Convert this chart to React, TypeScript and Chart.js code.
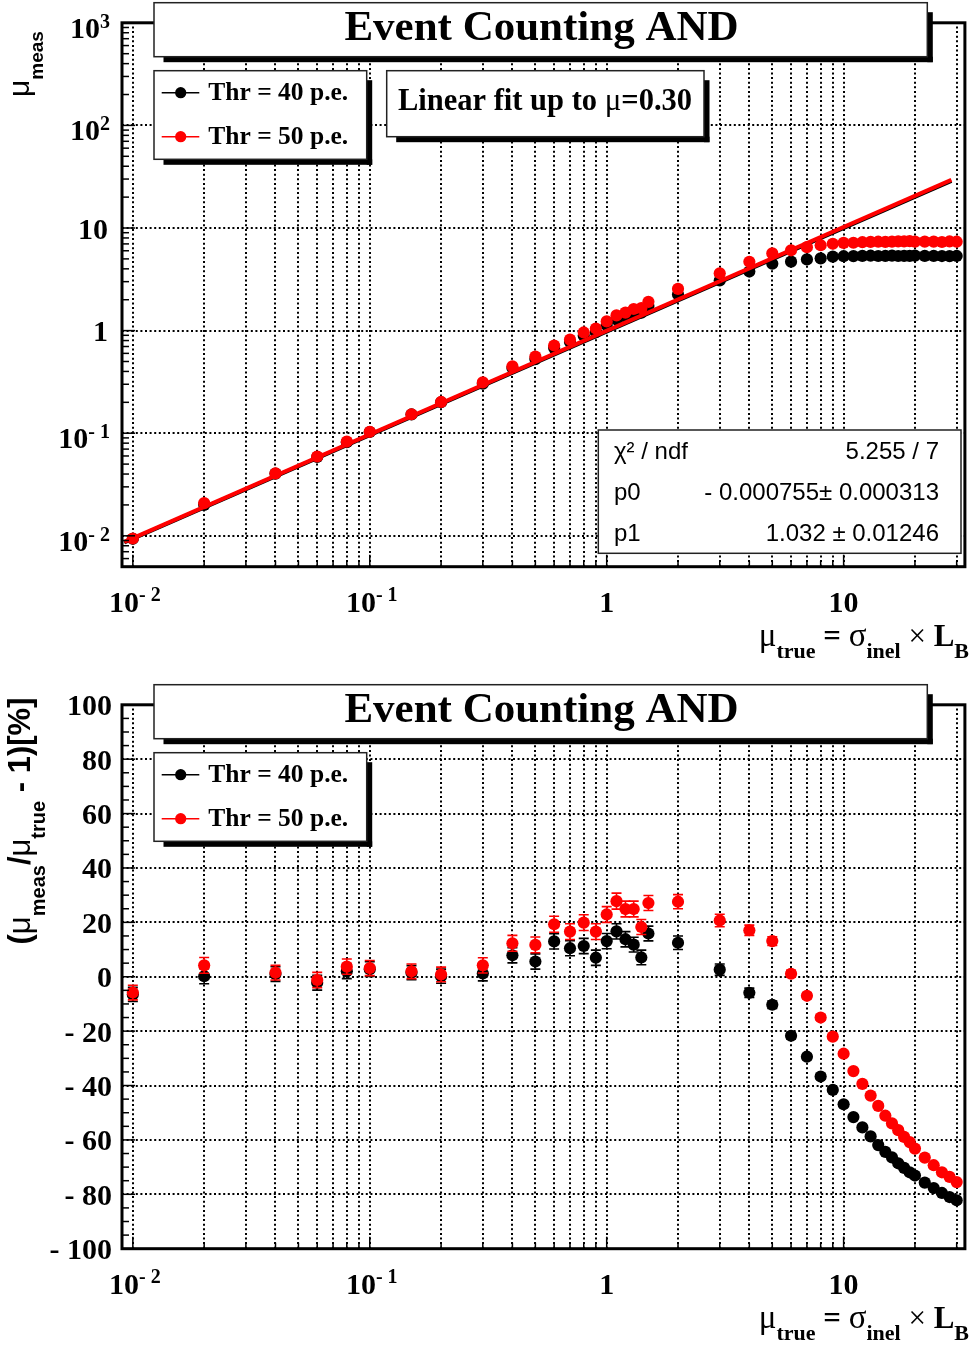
import React, { useEffect, useRef } from "react";
import { Chart, registerables } from "chart.js";

Chart.register(...registerables);

// ---------------- data ----------------
const MU_TRUE = [0.01, 0.02, 0.04, 0.06, 0.08, 0.1, 0.15, 0.2, 0.3, 0.4, 0.5, 0.6, 0.7, 0.8, 0.9, 1.0, 1.1, 1.2, 1.3, 1.4, 1.5, 2, 3, 4, 5, 6, 7, 8, 9, 10, 11, 12, 13, 14, 15, 16, 17, 18, 19, 20, 22, 24, 26, 28, 30];

// mu_meas (top panel)
const MEAS_40 = [0.00935, 0.02004, 0.0404, 0.05868, 0.0816, 0.1028, 0.1523, 0.2004, 0.3036, 0.4316, 0.528, 0.678, 0.7735, 0.8904, 0.963, 1.131, 1.284, 1.366, 1.453, 1.499, 1.739, 2.25, 3.078, 3.764, 4.485, 4.698, 4.942, 5.064, 5.256, 5.31, 5.324, 5.352, 5.369, 5.334, 5.34, 5.376, 5.338, 5.346, 5.339, 5.38, 5.346, 5.352, 5.33, 5.32, 5.34];
const MEAS_50 = [0.00942, 0.02084, 0.0406, 0.05928, 0.08296, 0.1032, 0.153, 0.2017, 0.3126, 0.4492, 0.5585, 0.7158, 0.8162, 0.9592, 1.049, 1.229, 1.406, 1.499, 1.624, 1.656, 1.907, 2.552, 3.621, 4.684, 5.655, 6.066, 6.51, 6.8, 7.02, 7.17, 7.183, 7.272, 7.319, 7.35, 7.335, 7.376, 7.412, 7.398, 7.448, 7.36, 7.37, 7.368, 7.306, 7.392, 7.35];

// (mu_meas/mu_true - 1) [%] (bottom panel)
const DEV_40 = [-6.5, 0.2, 1.0, -2.2, 2.0, 2.8, 1.5, 0.2, 1.2, 7.9, 5.6, 13.0, 10.5, 11.3, 7.0, 13.1, 16.7, 13.8, 11.8, 7.1, 15.9, 12.5, 2.6, -5.9, -10.3, -21.7, -29.4, -36.7, -41.6, -46.9, -51.6, -55.4, -58.7, -61.9, -64.4, -66.4, -68.6, -70.3, -71.9, -73.1, -75.7, -77.7, -79.5, -81.0, -82.2];
const DEV_50 = [-5.8, 4.2, 1.5, -1.2, 3.7, 3.2, 2.0, 0.85, 4.2, 12.3, 11.7, 19.3, 16.6, 19.9, 16.6, 22.9, 27.8, 24.9, 24.9, 18.3, 27.1, 27.6, 20.7, 17.1, 13.1, 1.1, -7.0, -15.0, -22.0, -28.3, -34.7, -39.4, -43.7, -47.5, -51.1, -53.9, -56.4, -58.9, -60.8, -63.2, -66.5, -69.3, -71.9, -73.6, -75.5];
const ERR_40 = [2.6, 2.8, 2.7, 2.7, 2.7, 2.7, 2.6, 2.6, 2.7, 2.8, 2.8, 2.8, 2.8, 2.8, 2.8, 2.8, 2.8, 2.8, 2.7, 2.7, 2.7, 2.5, 2.1, 1.7, 1.4, 1.2, 1.0, 0.9, 0.8, 0.7, 0.7, 0.6, 0.6, 0.6, 0.5, 0.5, 0.5, 0.5, 0.5, 0.4, 0.4, 0.4, 0.4, 0.4, 0.4];
const ERR_50 = [2.7, 2.9, 2.7, 2.8, 2.8, 2.8, 2.7, 2.7, 2.8, 2.9, 2.9, 2.95, 2.9, 2.9, 2.9, 2.9, 2.95, 2.9, 2.9, 2.75, 2.75, 2.6, 2.3, 1.9, 1.6, 1.3, 1.1, 1.0, 0.9, 0.8, 0.7, 0.7, 0.6, 0.6, 0.6, 0.5, 0.5, 0.5, 0.5, 0.5, 0.5, 0.4, 0.4, 0.4, 0.4];

// linear fits (drawn range)
const FIT_X = [0.0092, 28.5];
const FIT_40 = [0.0086, 28.8];
const FIT_50 = [0.00874, 29.4];

// axes
const X_MIN = 0.009;
const X_MAX = 32.5;
const X_MAJOR = [0.01, 0.1, 1, 10];
const X_MINOR = [0.02, 0.03, 0.04, 0.05, 0.06, 0.07, 0.08, 0.09, 0.2, 0.3, 0.4, 0.5, 0.6, 0.7, 0.8, 0.9, 2, 3, 4, 5, 6, 7, 8, 9, 20, 30];
const X_LABELS = [["10", "- 2"], ["10", "- 1"], ["1", ""], ["10", ""]];

const YT_MIN = 0.005;
const YT_MAX = 1000;
const YT_MAJOR = [0.01, 0.1, 1, 10, 100, 1000];
const YT_MINOR = [0.006, 0.007, 0.008, 0.009, 0.02, 0.03, 0.04, 0.05, 0.06, 0.07, 0.08, 0.09, 0.2, 0.3, 0.4, 0.5, 0.6, 0.7, 0.8, 0.9, 2, 3, 4, 5, 6, 7, 8, 9, 20, 30, 40, 50, 60, 70, 80, 90, 200, 300, 400, 500, 600, 700, 800, 900];
const YT_LABELS = [["10", "- 2"], ["10", "- 1"], ["1", ""], ["10", ""], ["10", "2"], ["10", "3"]];

const YB_MIN = -100;
const YB_MAX = 100;
const YB_MAJOR = [-100, -80, -60, -40, -20, 0, 20, 40, 60, 80, 100];
const YB_MINOR = [-95, -90, -85, -75, -70, -65, -55, -50, -45, -35, -30, -25, -15, -10, -5, 5, 10, 15, 25, 30, 35, 45, 50, 55, 65, 70, 75, 85, 90, 95];
const YB_LABELS = [["- 100", ""], ["- 80", ""], ["- 60", ""], ["- 40", ""], ["- 20", ""], ["0", ""], ["20", ""], ["40", ""], ["60", ""], ["80", ""], ["100", ""]];

const SERIES_NAMES = ["Thr = 40 p.e.", "Thr = 50 p.e."];
const SERIES_COLORS = ["#000000", "#ff0000"];
const TITLE = "Event Counting AND";
const STATS = [
  ["χ² / ndf", "5.255 / 7"],
  ["p0", "- 0.000755± 0.000313"],
  ["p1", "1.032 ± 0.01246"],
];

// ---------------- layout ----------------
const W = 971;
const H_TOP = 682;
const H_BOT = 664;
const AREA = { left: 122, right: 968, top: 22.8, bottom: 566.7 };
const MARKER_R = 6.1;

const SERIF_B = (s: number) => `bold ${s}px "Liberation Serif", "Times New Roman", serif`;
const SERIF = (s: number) => `${s}px "Liberation Serif", "Times New Roman", serif`;
const SANS = (s: number) => `${s}px "Liberation Sans", Arial, sans-serif`;
const SANS_B = (s: number) => `bold ${s}px "Liberation Sans", Arial, sans-serif`;

type Run = { t: string; f: string; dy?: number };

function runsWidth(ctx: CanvasRenderingContext2D, runs: Run[]) {
  let w = 0;
  for (const r of runs) {
    ctx.font = r.f;
    w += ctx.measureText(r.t).width;
  }
  return w;
}

function drawRuns(ctx: CanvasRenderingContext2D, runs: Run[], x: number, y: number, align: string, rotate = false, color = "#000") {
  ctx.save();
  ctx.translate(x, y);
  if (rotate) ctx.rotate(-Math.PI / 2);
  const w = runsWidth(ctx, runs);
  let cx = align === "left" ? 0 : align === "right" ? -w : -w / 2;
  ctx.textAlign = "left";
  ctx.textBaseline = "alphabetic";
  ctx.fillStyle = color;
  for (const r of runs) {
    ctx.font = r.f;
    ctx.fillText(r.t, cx, r.dy || 0);
    cx += ctx.measureText(r.t).width;
  }
  ctx.restore();
}

function pave(ctx: CanvasRenderingContext2D, x1: number, y1: number, x2: number, y2: number, shadow = true) {
  ctx.save();
  if (shadow) {
    ctx.fillStyle = "#000";
    ctx.fillRect(x2, y1 + 9.5, 5.5, y2 - y1 - 9.5 + 5.5);
    ctx.fillRect(x1 + 9.5, y2, x2 - x1 - 9.5 + 5.5, 5.5);
  }
  ctx.fillStyle = "#fff";
  ctx.fillRect(x1, y1, x2 - x1, y2 - y1);
  ctx.strokeStyle = "#222";
  ctx.lineWidth = 1.5;
  ctx.strokeRect(x1, y1, x2 - x1, y2 - y1);
  ctx.restore();
}

function makeDecor(cfg: any) {
  return {
    id: "decor",
    beforeDatasetsDraw(chart: any) {
      const ctx: CanvasRenderingContext2D = chart.ctx;
      const { left, right, top, bottom } = chart.chartArea;
      const xs = chart.scales.x;
      const ys = chart.scales.y;
      ctx.save();
      ctx.strokeStyle = "#000";
      ctx.lineWidth = 2;
      ctx.setLineDash([2, 2.6]);
      for (const v of [...X_MAJOR, ...X_MINOR]) {
        const px = Math.round(xs.getPixelForValue(v));
        if (px <= left + 2 || px >= right - 2) continue;
        ctx.beginPath();
        ctx.moveTo(px, bottom);
        ctx.lineTo(px, top);
        ctx.stroke();
      }
      for (const v of cfg.yMajor) {
        const py = Math.round(ys.getPixelForValue(v));
        if (py <= top + 2 || py >= bottom - 2) continue;
        ctx.beginPath();
        ctx.moveTo(left, py);
        ctx.lineTo(right, py);
        ctx.stroke();
      }
      ctx.restore();
    },
    beforeDatasetDraw(chart: any, args: any) {
      const ds = chart.data.datasets[args.index];
      if (!ds.errors) return;
      const ctx: CanvasRenderingContext2D = chart.ctx;
      const ys = chart.scales.y;
      ctx.save();
      ctx.strokeStyle = ds.backgroundColor;
      ctx.lineWidth = 1.6;
      args.meta.data.forEach((el: any, i: number) => {
        const v = ds.data[i].y;
        const e = ds.errors[i];
        const y1 = ys.getPixelForValue(v - e);
        const y2 = ys.getPixelForValue(v + e);
        ctx.beginPath();
        ctx.moveTo(el.x, y1);
        ctx.lineTo(el.x, y2);
        ctx.moveTo(el.x - 5, y1);
        ctx.lineTo(el.x + 5, y1);
        ctx.moveTo(el.x - 5, y2);
        ctx.lineTo(el.x + 5, y2);
        ctx.stroke();
      });
      ctx.restore();
    },
    afterDraw(chart: any) {
      const ctx: CanvasRenderingContext2D = chart.ctx;
      const { left, right, top, bottom } = chart.chartArea;
      const xs = chart.scales.x;
      const ys = chart.scales.y;
      ctx.save();
      // ticks
      ctx.strokeStyle = "#000";
      ctx.lineWidth = 1.5;
      ctx.setLineDash([]);
      const tick = (x1: number, y1: number, x2: number, y2: number) => {
        ctx.beginPath();
        ctx.moveTo(x1, y1);
        ctx.lineTo(x2, y2);
        ctx.stroke();
      };
      for (const v of cfg.yMajor) {
        const py = ys.getPixelForValue(v);
        tick(left, py, left + 13, py);
      }
      for (const v of cfg.yMinor) {
        const py = ys.getPixelForValue(v);
        tick(left, py, left + 7, py);
      }
      for (const v of X_MAJOR) {
        const px = xs.getPixelForValue(v);
        tick(px, bottom, px, bottom - 12);
      }
      for (const v of X_MINOR) {
        const px = xs.getPixelForValue(v);
        tick(px, bottom, px, bottom - 6);
      }
      // frame
      ctx.lineWidth = 3;
      ctx.strokeRect(left, top, right - left, bottom - top);

      // y tick labels
      cfg.yMajor.forEach((v: number, i: number) => {
        const py = ys.getPixelForValue(v);
        const [b, e] = cfg.yLabels[i];
        if (e) {
          drawRuns(ctx, [{ t: b, f: SERIF_B(30), dy: 15 }, { t: e, f: SERIF_B(20), dy: 5 }], 110, py, "right");
        } else {
          drawRuns(ctx, [{ t: b, f: SERIF_B(30), dy: 10.5 }], cfg.plainRight, py, "right");
        }
      });
      // x tick labels
      X_MAJOR.forEach((v, i) => {
        const px = xs.getPixelForValue(v);
        const [b, e] = X_LABELS[i];
        const runs: Run[] = [{ t: b, f: SERIF_B(30) }];
        if (e) runs.push({ t: e, f: SERIF_B(20), dy: -11 });
        drawRuns(ctx, runs, px + (e ? 2 : 0), bottom + 45, "center");
      });
      // x title
      drawRuns(
        ctx,
        [
          { t: "μ", f: SERIF(33) },
          { t: "true", f: SERIF_B(22), dy: 12 },
          { t: " = ", f: SERIF_B(31) },
          { t: "σ", f: SERIF(33) },
          { t: "inel", f: SERIF_B(22), dy: 12 },
          { t: " × ", f: SERIF(31) },
          { t: "L", f: SERIF_B(31) },
          { t: "B", f: SERIF_B(22), dy: 12 },
        ],
        969,
        646,
        "right"
      );
      // y title
      drawRuns(ctx, cfg.yTitle, cfg.yTitlePos[0], cfg.yTitlePos[1], cfg.yTitleAlign, true);

      // title box
      pave(ctx, 154, 2.7, 927.3, 56.7);
      ctx.fillStyle = "#000";
      ctx.font = SERIF_B(43);
      ctx.textAlign = "center";
      ctx.textBaseline = "alphabetic";
      ctx.fillText(TITLE, 541.5, 40);

      // legend
      pave(ctx, 154, 70.7, 366.7, 159.3);
      [92.7, 136.7].forEach((ly, i) => {
        ctx.strokeStyle = SERIES_COLORS[i];
        ctx.lineWidth = 1.5;
        ctx.beginPath();
        ctx.moveTo(161.7, ly);
        ctx.lineTo(199.3, ly);
        ctx.stroke();
        ctx.fillStyle = SERIES_COLORS[i];
        ctx.beginPath();
        ctx.arc(180.7, ly, 5.6, 0, Math.PI * 2);
        ctx.fill();
        ctx.fillStyle = "#000";
        ctx.font = SERIF_B(25.5);
        ctx.textAlign = "left";
        ctx.fillText(SERIES_NAMES[i], 208.3, ly + 7.5);
      });

      if (cfg.fitBox) {
        pave(ctx, 386.7, 70.7, 704, 136.7);
        drawRuns(
          ctx,
          [
            { t: "Linear fit up to ", f: SERIF_B(30.5) },
            { t: "μ", f: SERIF(31) },
            { t: "=0.30", f: SERIF_B(30.5) },
          ],
          545,
          110,
          "center"
        );
      }
      if (cfg.stats) {
        pave(ctx, 598.3, 430, 961, 553.3, false);
        ctx.fillStyle = "#000";
        ctx.font = SANS(24);
        [458.5, 499.5, 540.5].forEach((by, i) => {
          ctx.textAlign = "left";
          ctx.fillText(STATS[i][0], 614, by);
          ctx.textAlign = "right";
          ctx.fillText(STATS[i][1], 939, by);
        });
      }
      ctx.restore();
    },
  };
}

function pts(ys: number[]) {
  return MU_TRUE.map((x, i) => ({ x, y: ys[i] }));
}
function fitPts(ys: number[]) {
  return FIT_X.map((x, i) => ({ x, y: ys[i] }));
}

function topConfig(h: number): any {
  return {
    type: "scatter",
    data: {
      datasets: [
        { label: "fit50", data: fitPts(FIT_50), showLine: true, borderColor: "#ff0000", borderWidth: 4, pointRadius: 0, order: 0 },
        { label: SERIES_NAMES[1], data: pts(MEAS_50), backgroundColor: "#ff0000", borderWidth: 0, pointRadius: MARKER_R, order: 1 },
        { label: "fit40", data: fitPts(FIT_40), showLine: true, borderColor: "#000000", borderWidth: 4, pointRadius: 0, order: 2 },
        { label: SERIES_NAMES[0], data: pts(MEAS_40), backgroundColor: "#000000", borderWidth: 0, pointRadius: MARKER_R, order: 3 },
      ],
    },
    options: baseOptions(h, { type: "logarithmic", min: YT_MIN, max: YT_MAX }),
    plugins: [
      makeDecor({
        yMajor: YT_MAJOR,
        yMinor: YT_MINOR,
        yLabels: YT_LABELS,
        plainRight: 108,
        yTitle: [
          { t: "μ", f: SANS(30) },
          { t: "meas", f: SANS_B(19), dy: 14 },
        ],
        yTitlePos: [29, 97],
        yTitleAlign: "left",
        fitBox: true,
        stats: true,
      }),
    ],
  };
}

function bottomConfig(h: number): any {
  return {
    type: "scatter",
    data: {
      datasets: [
        { label: SERIES_NAMES[1], data: pts(DEV_50), errors: ERR_50, backgroundColor: "#ff0000", borderWidth: 0, pointRadius: MARKER_R, order: 0 },
        { label: SERIES_NAMES[0], data: pts(DEV_40), errors: ERR_40, backgroundColor: "#000000", borderWidth: 0, pointRadius: MARKER_R, order: 1 },
      ],
    },
    options: baseOptions(h, { type: "linear", min: YB_MIN, max: YB_MAX }),
    plugins: [
      makeDecor({
        yMajor: YB_MAJOR,
        yMinor: YB_MINOR,
        yLabels: YB_LABELS,
        plainRight: 112,
        yTitle: [
          { t: "(", f: SANS_B(31) },
          { t: "μ", f: SANS(31) },
          { t: "meas", f: SANS_B(20), dy: 15 },
          { t: "/", f: SANS_B(31) },
          { t: "μ", f: SANS(31) },
          { t: "true", f: SANS_B(20), dy: 15 },
          { t: " - 1)[%]", f: SANS_B(31) },
        ],
        yTitlePos: [30, 139],
        yTitleAlign: "center",
        fitBox: false,
        stats: false,
      }),
    ],
  };
}

function baseOptions(h: number, y: any): any {
  return {
    animation: false,
    responsive: false,
    maintainAspectRatio: false,
    events: [],
    layout: { padding: { top: AREA.top, right: W - AREA.right, left: 0, bottom: 0 } },
    plugins: { legend: { display: false }, tooltip: { enabled: false }, title: { display: false } },
    scales: {
      x: {
        type: "logarithmic",
        min: X_MIN,
        max: X_MAX,
        ticks: { display: false },
        grid: { display: false },
        border: { display: false },
        afterFit: (s: any) => {
          s.height = h - AREA.bottom;
        },
      },
      y: {
        ...y,
        ticks: { display: false },
        grid: { display: false },
        border: { display: false },
        afterFit: (s: any) => {
          s.width = AREA.left;
        },
      },
    },
  };
}

function Plot({ height, build }: { height: number; build: (h: number) => any }) {
  const ref = useRef<HTMLCanvasElement>(null);
  useEffect(() => {
    const chart = new Chart(ref.current as HTMLCanvasElement, build(height));
    return () => chart.destroy();
  }, []);
  return <canvas ref={ref} width={W} height={height} style={{ display: "block", width: W, height }} />;
}

export default function App() {
  return (
    <div style={{ position: "absolute", left: 0, top: 0, width: W, height: 1346, background: "#fff", overflow: "hidden" }}>
      <div style={{ position: "absolute", left: 0, top: 0 }}>
        <Plot height={H_TOP} build={topConfig} />
      </div>
      <div style={{ position: "absolute", left: 0, top: H_TOP }}>
        <Plot height={H_BOT} build={bottomConfig} />
      </div>
    </div>
  );
}
